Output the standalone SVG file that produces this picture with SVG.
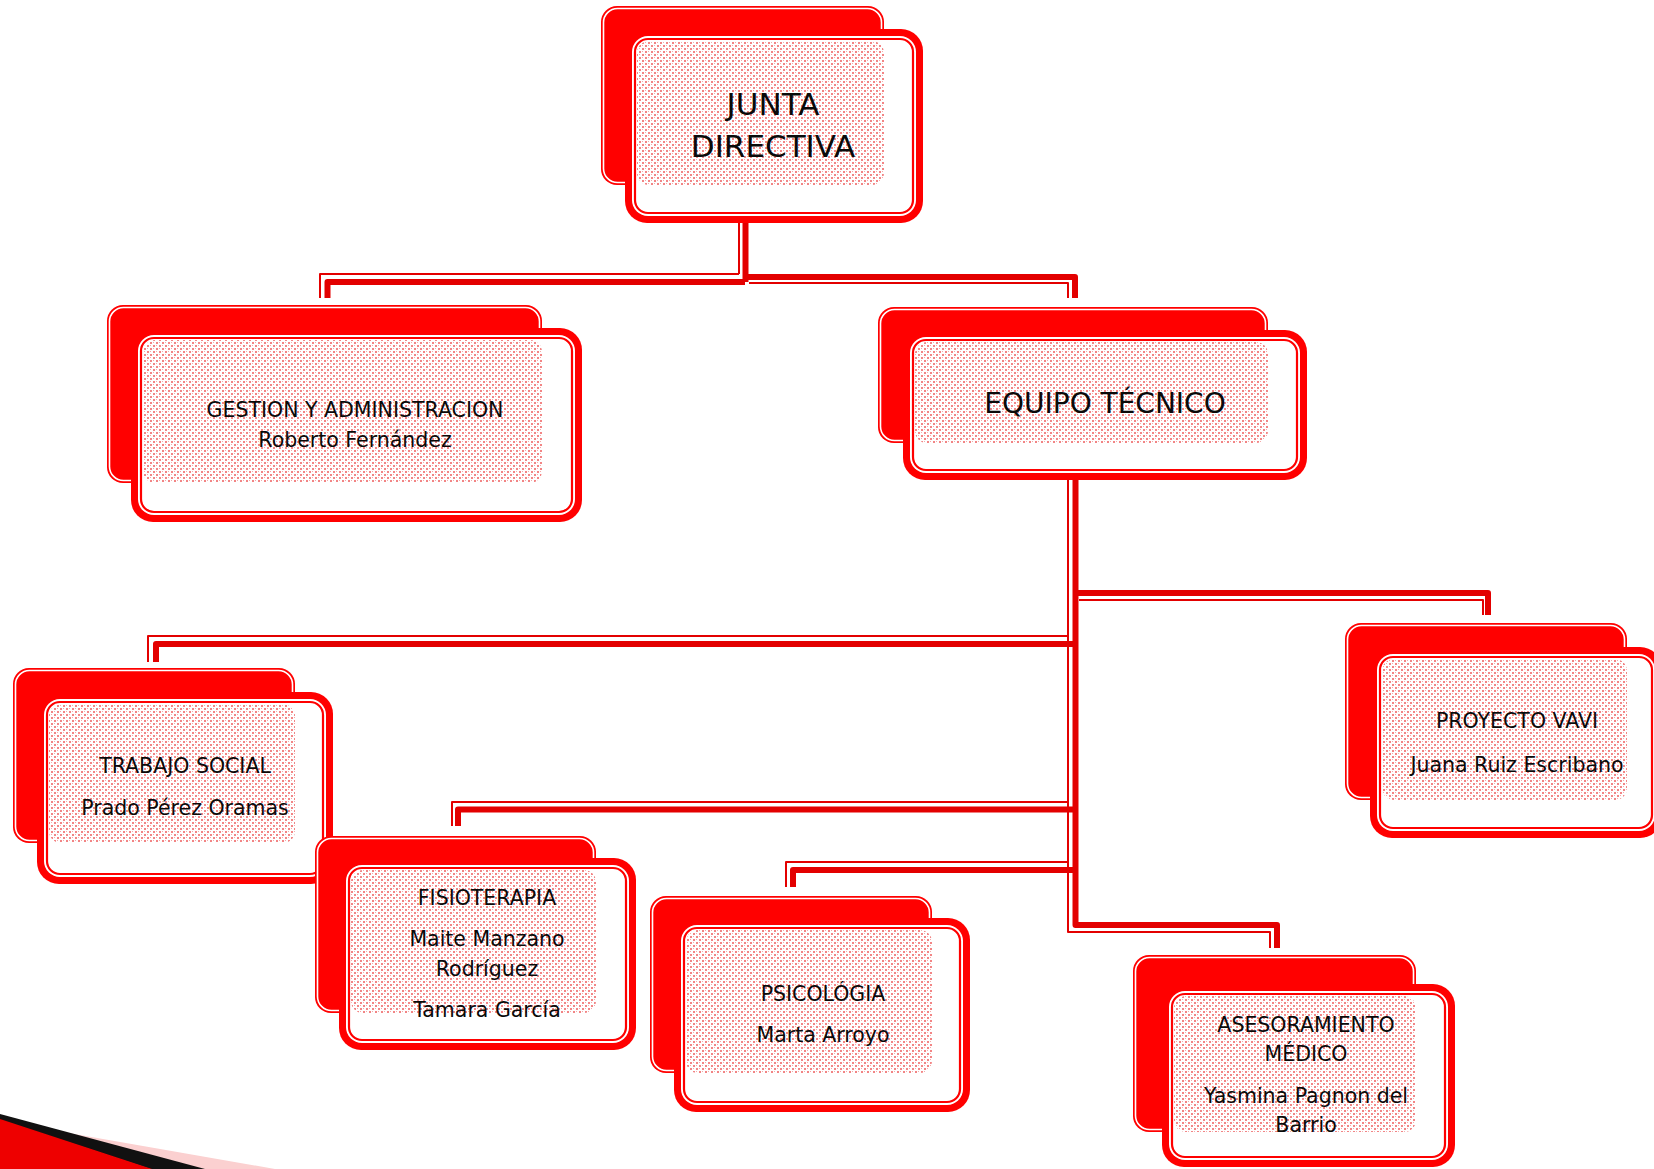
<svg xmlns="http://www.w3.org/2000/svg" width="1654" height="1169" viewBox="0 0 1654 1169">
<defs>
<pattern id="dots" width="6" height="6" patternUnits="userSpaceOnUse">
<rect width="6" height="6" fill="#fff"/>
<rect x="0" y="0" width="2" height="2" fill="#f28585"/>
<rect x="3" y="3" width="2" height="2" fill="#f28585"/>
<rect x="3" y="0" width="1" height="1" fill="#f5aaaa"/>
<rect x="0" y="3" width="1" height="1" fill="#f5aaaa"/>
</pattern>
</defs>
<style>
.back{fill:#ff0000}
.bl{fill:none;stroke:#fff;stroke-width:1.6}
.fo{fill:#ff0000}
.fw{fill:#fff}
.fl{fill:none;stroke:#ff0000;stroke-width:2.2}
.pat{fill:url(#dots)}
.t{font-family:"DejaVu Sans",Verdana,sans-serif;fill:#0a0a0a;text-anchor:middle;font-size:20.5px}
.big{font-size:31px}
.mid{font-size:28px}
.ck{fill:none;stroke:#e30000;stroke-width:6;stroke-linejoin:round}
.cn{fill:none;stroke:#e30000;stroke-width:2;stroke-linejoin:round}
</style>
<rect width="1654" height="1169" fill="#fff"/>

<g id="connectors">
<path class="ck" d="M745.5 223 V282"/>
<path class="cn" d="M739 223 V274"/>
<path class="ck" d="M745 282 H327.5 V298"/>
<path class="cn" d="M739 274 H320 V298"/>
<path class="ck" d="M745 277 H1075 V298"/>
<path class="cn" d="M749 283 H1068 V298"/>
<rect x="737" y="194" width="11" height="20" class="pat"/>
<rect x="1067" y="451" width="11" height="22" class="pat"/>

<path class="ck" d="M1075.5 480 V925 H1277 V948"/>
<path class="cn" d="M1068 480 V932 H1270 V948"/>
<path class="ck" d="M1075 593 H1488 V615"/>
<path class="cn" d="M1079 600 H1483 V615"/>
<path class="ck" d="M1076 644 H156 V662"/>
<path class="cn" d="M1068 636 H148 V662"/>
<path class="ck" d="M1076 809.5 H458 V826"/>
<path class="cn" d="M1068 802 H452 V826"/>
<path class="ck" d="M1076 870 H793 V887"/>
<path class="cn" d="M1068 862 H786 V887"/>
</g>

<g id="junta">
<rect class="back" x="601" y="6" width="283" height="179" rx="16"/>
<rect class="bl" x="603.5" y="8.5" width="278" height="174" rx="14"/>
<rect class="fo" x="625" y="29" width="298" height="194" rx="22"/>
<rect class="fw" x="632" y="36" width="284" height="180" rx="16"/>
<rect class="fl" x="635" y="39" width="278" height="174" rx="13"/>
<rect class="pat" x="637" y="41" width="247" height="144" rx="12"/>
<text class="t big" x="773" y="115">JUNTA</text>
<text class="t big" x="773" y="157">DIRECTIVA</text>
</g>

<g id="gestion">
<rect class="back" x="107" y="305" width="435" height="178" rx="16"/>
<rect class="bl" x="109.5" y="307.5" width="430" height="173" rx="14"/>
<rect class="fo" x="131" y="328" width="451" height="194" rx="22"/>
<rect class="fw" x="138" y="335" width="437" height="180" rx="16"/>
<rect class="fl" x="141" y="338" width="431" height="174" rx="13"/>
<rect class="pat" x="143" y="340" width="399" height="143" rx="12"/>
<text class="t" x="355" y="417">GESTION Y ADMINISTRACION</text>
<text class="t" x="355" y="447">Roberto Fernández</text>
</g>

<g id="equipo">
<rect class="back" x="878" y="307" width="390" height="136" rx="16"/>
<rect class="bl" x="880.5" y="309.5" width="385" height="131" rx="14"/>
<rect class="fo" x="903" y="330" width="404" height="150" rx="22"/>
<rect class="fw" x="910" y="337" width="390" height="136" rx="16"/>
<rect class="fl" x="913" y="340" width="384" height="130" rx="13"/>
<rect class="pat" x="915" y="342" width="353" height="101" rx="12"/>
<text class="t mid" x="1105" y="413">EQUIPO TÉCNICO</text>
</g>

<g id="trabajo">
<rect class="back" x="13" y="668" width="282" height="175" rx="16"/>
<rect class="bl" x="15.5" y="670.5" width="277" height="170" rx="14"/>
<rect class="fo" x="37" y="692" width="296" height="192" rx="22"/>
<rect class="fw" x="44" y="699" width="282" height="178" rx="16"/>
<rect class="fl" x="47" y="702" width="276" height="172" rx="13"/>
<rect class="pat" x="49" y="704" width="246" height="139" rx="12"/>
<text class="t" x="185" y="773">TRABAJO SOCIAL</text>
<text class="t" x="185" y="815">Prado Pérez Oramas</text>
</g>

<g id="vavi">
<rect class="back" x="1345" y="623" width="282" height="177" rx="16"/>
<rect class="bl" x="1347.5" y="625.5" width="277" height="172" rx="14"/>
<rect class="fo" x="1370" y="647" width="292" height="191" rx="22"/>
<rect class="fw" x="1377" y="654" width="278" height="177" rx="16"/>
<rect class="fl" x="1380" y="657" width="272" height="171" rx="13"/>
<rect class="pat" x="1382" y="659" width="245" height="141" rx="12"/>
<text class="t" x="1517" y="728">PROYECTO VAVI</text>
<text class="t" x="1517" y="772">Juana Ruiz Escribano</text>
</g>

<g id="fisio">
<rect class="back" x="315" y="836" width="281" height="177" rx="16"/>
<rect class="bl" x="317.5" y="838.5" width="276" height="172" rx="14"/>
<rect class="fo" x="339" y="858" width="297" height="192" rx="22"/>
<rect class="fw" x="346" y="865" width="283" height="178" rx="16"/>
<rect class="fl" x="349" y="868" width="277" height="172" rx="13"/>
<rect class="pat" x="351" y="870" width="245" height="143" rx="12"/>
<text class="t" x="487" y="905">FISIOTERAPIA</text>
<text class="t" x="487" y="946">Maite Manzano</text>
<text class="t" x="487" y="976">Rodríguez</text>
<text class="t" x="487" y="1017">Tamara García</text>
</g>

<g id="psico">
<rect class="back" x="650" y="896" width="282" height="177" rx="16"/>
<rect class="bl" x="652.5" y="898.5" width="277" height="172" rx="14"/>
<rect class="fo" x="674" y="918" width="296" height="194" rx="22"/>
<rect class="fw" x="681" y="925" width="282" height="180" rx="16"/>
<rect class="fl" x="684" y="928" width="276" height="174" rx="13"/>
<rect class="pat" x="686" y="930" width="246" height="143" rx="12"/>
<text class="t" x="823" y="1001">PSICOLÓGIA</text>
<text class="t" x="823" y="1042">Marta Arroyo</text>
</g>

<g id="asesor">
<rect class="back" x="1133" y="955" width="283" height="177" rx="16"/>
<rect class="bl" x="1135.5" y="957.5" width="278" height="172" rx="14"/>
<rect class="fo" x="1162" y="984" width="293" height="183" rx="22"/>
<rect class="fw" x="1169" y="991" width="279" height="169" rx="16"/>
<rect class="fl" x="1172" y="994" width="273" height="163" rx="13"/>
<rect class="pat" x="1174" y="996" width="242" height="136" rx="12"/>
<text class="t" x="1306" y="1032">ASESORAMIENTO</text>
<text class="t" x="1306" y="1061">MÉDICO</text>
<text class="t" x="1306" y="1103">Yasmina Pagnon del</text>
<text class="t" x="1306" y="1132">Barrio</text>
</g>

<g id="corner">
<polygon points="40,1128 275,1169 200,1169" fill="#fbd0d0"/>
<polygon points="0,1114 205,1169 150,1169 0,1120" fill="#111"/>
<polygon points="0,1119 152,1169 0,1169" fill="#ee0000"/>
</g>
</svg>
